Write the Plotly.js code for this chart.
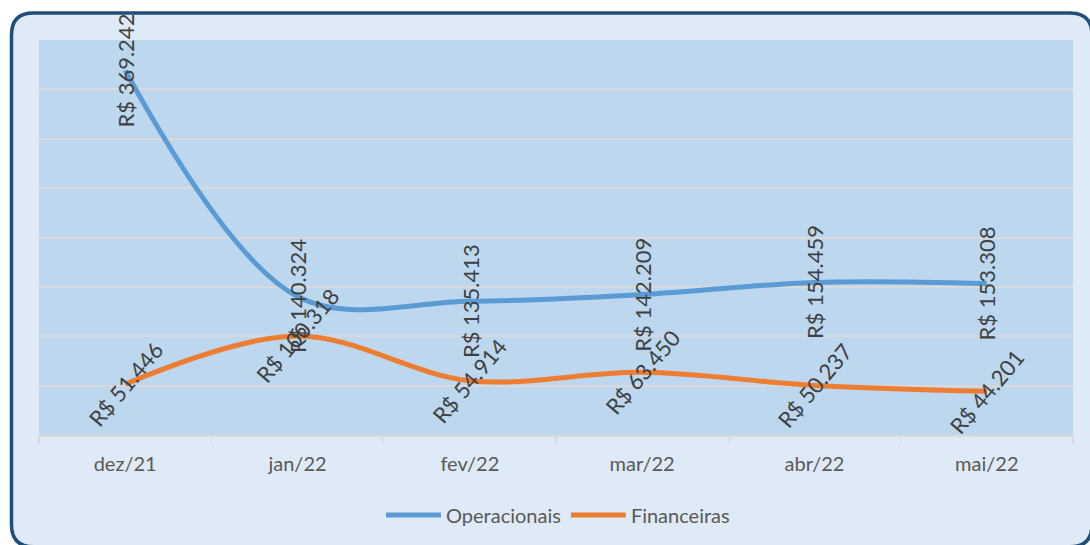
<!DOCTYPE html>
<html>
<head>
<meta charset="utf-8">
<script src="https://cdn.plot.ly/plotly-3.0.1.min.js"></script>
<style>
html,body{margin:0;padding:0;background:#ffffff;}
#chart{width:1090px;height:545px;}
</style>
</head>
<body>
<div id="chart"></div>
<script>
var categories = ['dez/21', 'jan/22', 'fev/22', 'mar/22', 'abr/22', 'mai/22'];
var operacionais = [369242, 140324, 135413, 142209, 154459, 153308];
var financeiras = [51446, 100318, 54914, 63450, 50237, 44201];
var seriesNames = ['Operacionais', 'Financeiras'];

var W = 1090, H = 545;
var M = {l: 39, r: 17, t: 40, b: 109};
var pw = W - M.l - M.r, ph = H - M.t - M.b;
function px(x){ return ((x - M.l) / pw).toFixed(5); }
function py(y){ return ((H - M.b - y) / ph).toFixed(5); }

// rounded outer frame (pixel geometry -> paper coords)
var fx0 = 11.5, fy0 = 13, fx1 = 1092, fy1 = 548, rr = 22;
var framePath = 'M ' + px(fx0 + rr) + ',' + py(fy0) +
  ' L ' + px(fx1 - rr) + ',' + py(fy0) +
  ' Q ' + px(fx1) + ',' + py(fy0) + ' ' + px(fx1) + ',' + py(fy0 + rr) +
  ' L ' + px(fx1) + ',' + py(fy1 - rr) +
  ' Q ' + px(fx1) + ',' + py(fy1) + ' ' + px(fx1 - rr) + ',' + py(fy1) +
  ' L ' + px(fx0 + rr) + ',' + py(fy1) +
  ' Q ' + px(fx0) + ',' + py(fy1) + ' ' + px(fx0) + ',' + py(fy1 - rr) +
  ' L ' + px(fx0) + ',' + py(fy0 + rr) +
  ' Q ' + px(fx0) + ',' + py(fy0) + ' ' + px(fx0 + rr) + ',' + py(fy0) + ' Z';

function fmt(v){ return 'R$ ' + String(v).replace(/\B(?=(\d{3})+(?!\d))/g, '.'); }

var FONT = 'Lato, "Open Sans", "Liberation Sans", sans-serif';

var traces = [
  {x: categories, y: operacionais, name: seriesNames[0], type: 'scatter', mode: 'lines',
   line: {color: '#5B9BD5', width: 5, shape: 'spline', smoothing: 1}, hoverinfo: 'none'},
  {x: categories, y: financeiras, name: seriesNames[1], type: 'scatter', mode: 'lines',
   line: {color: '#ED7D31', width: 5, shape: 'spline', smoothing: 1}, hoverinfo: 'none'}
];

var annotations = [];
categories.forEach(function(c, i){
  annotations.push({x: c, y: operacionais[i], xref: 'x', yref: 'y', text: fmt(operacionais[i]),
    showarrow: false, textangle: -90, xanchor: 'center', yanchor: 'middle',
    font: {family: FONT, size: 22, color: '#404040'}});
});
categories.forEach(function(c, i){
  annotations.push({x: c, y: financeiras[i], xref: 'x', yref: 'y', text: fmt(financeiras[i]),
    showarrow: false, textangle: -50, xanchor: 'center', yanchor: 'middle',
    font: {family: FONT, size: 22, color: '#404040'}});
});

var layout = {
  width: W, height: H,
  margin: M,
  paper_bgcolor: '#ffffff',
  plot_bgcolor: 'rgba(0,0,0,0)',
  showlegend: true,
  legend: {orientation: 'h', x: px(558), y: py(515), xanchor: 'center', yanchor: 'middle',
    font: {family: FONT, size: 20, color: '#595959'}, itemwidth: 55, bgcolor: 'rgba(0,0,0,0)',
    traceorder: 'normal'},
  xaxis: {type: 'category', range: [-0.5, 5.5], showgrid: false, zeroline: false,
    showline: true, linecolor: '#D9D9D9', linewidth: 2,
    ticks: 'outside', tickson: 'boundaries', ticklen: 7, tickcolor: '#D9D9D9', tickwidth: 1.5,
    ticklabelstandoff: 10,
    tickfont: {family: FONT, size: 20, color: '#595959'}, fixedrange: true},
  yaxis: {range: [0, 400000], dtick: 50000, tick0: 0, showgrid: true, gridcolor: '#D9D9D9', gridwidth: 2,
    showticklabels: false, zeroline: false, showline: false, ticks: '', fixedrange: true},
  shapes: [
    {type: 'path', xref: 'paper', yref: 'paper', path: framePath, layer: 'below',
     fillcolor: '#DEEAF6', line: {color: '#1F4E79', width: 3.5}},
    {type: 'rect', xref: 'paper', yref: 'paper', x0: 0, x1: 1, y0: 0, y1: 1, layer: 'below',
     fillcolor: '#BDD7EE', line: {width: 0}}
  ],
  annotations: annotations
};

Plotly.newPlot('chart', traces, layout, {displayModeBar: false, staticPlot: true});
</script>
</body>
</html>
